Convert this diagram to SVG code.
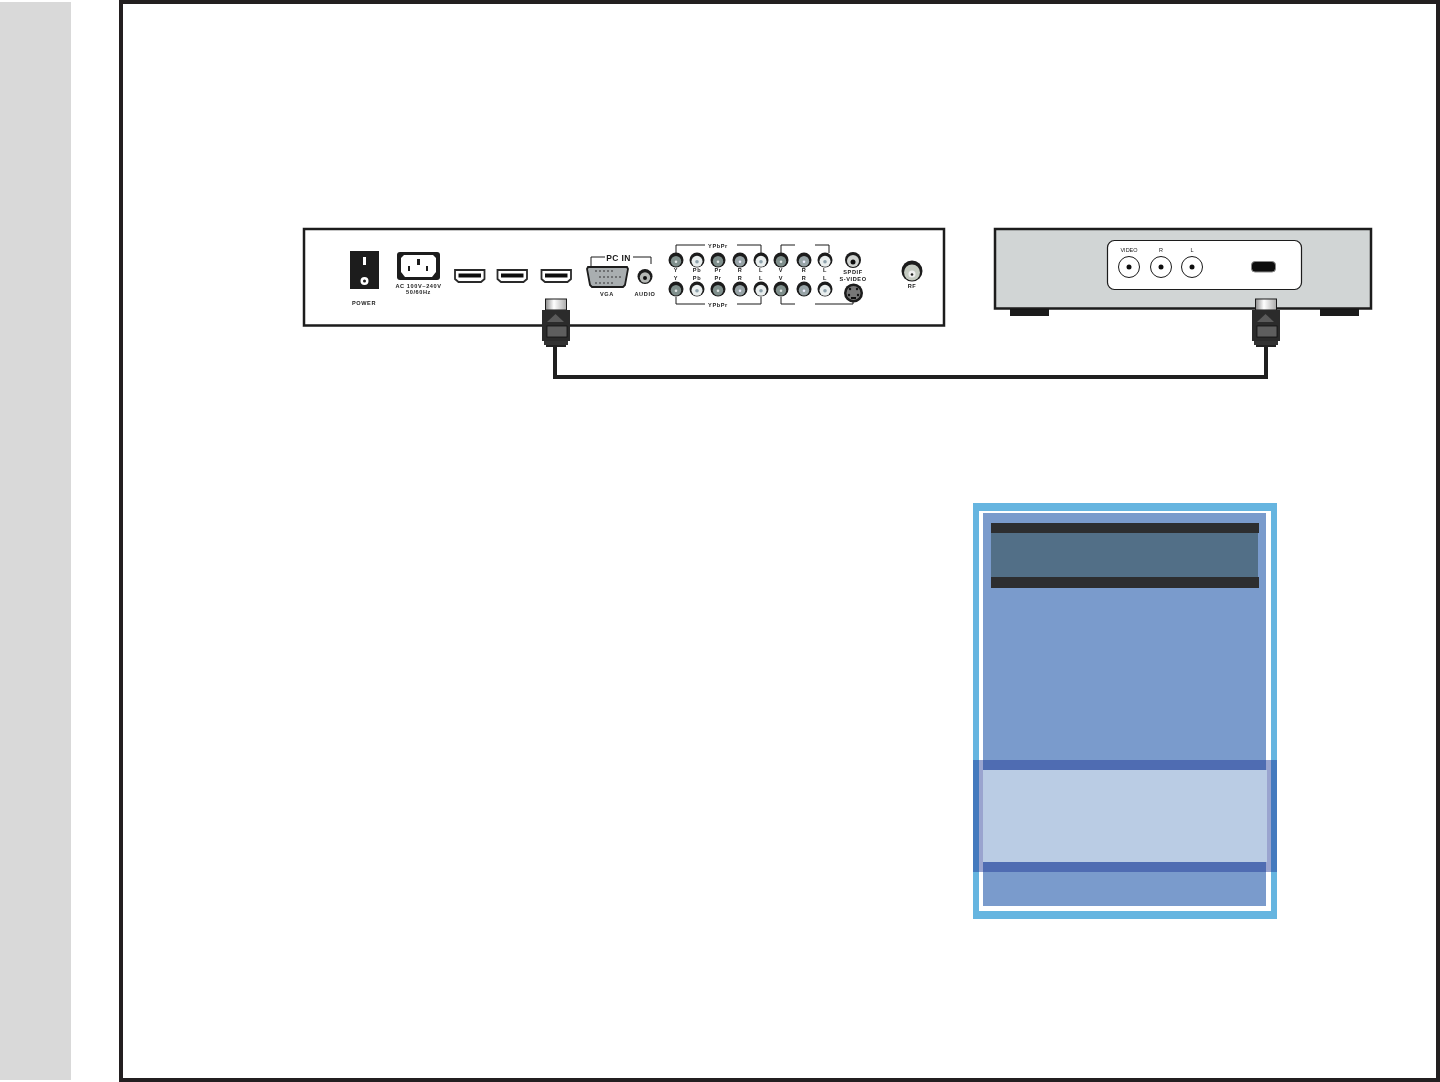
<svg xmlns="http://www.w3.org/2000/svg" width="1440" height="1082" viewBox="0 0 1440 1082">
<style>
text{font-family:"Liberation Sans",Arial,sans-serif;font-weight:bold;fill:#1a1a1a;text-anchor:middle}
.s{font-size:5.600px;letter-spacing:.6px}.l{font-size:8.500px;letter-spacing:.4px}
.w{fill:none;stroke:#1a1a1a;stroke-width:1}
text.stb{font-weight:normal;font-size:5.500px;letter-spacing:0}
.rc{fill:#fff;stroke:#1a1a1a;stroke-width:1.200}
</style>
<defs>
<filter id="soft" x="0" y="0" width="1440" height="1082" filterUnits="userSpaceOnUse"><feGaussianBlur stdDeviation=".28"/></filter>
<linearGradient id="head" x1="0" x2="1" y1="0" y2="0"><stop offset="0" stop-color="#8a8a8a"/><stop offset=".4" stop-color="#fff"/><stop offset="1" stop-color="#aaa"/></linearGradient>
<g id="hdmi"><path d="M0 1.500h29.500v9l-3.500 3h-22.500l-3.500-3z" fill="#fff" stroke="#2a2a2a" stroke-width="1.800"/><rect x="3.500" y="5" width="22.500" height="4" fill="#111"/></g>
<g id="plug">
<rect x="3.500" y="-11" width="21" height="11" fill="url(#head)" stroke="#1a1a1a" stroke-width="1"/>
<rect x="0" y="0" width="28" height="31" fill="#2b2b2b"/>
<path d="M5 12l8.500-8 8.500 8z" fill="#5a5a5a"/>
<rect x="5" y="16" width="20" height="11" fill="#5e5e5e" stroke="#111" stroke-width=".8"/>
<rect x="2" y="31" width="24" height="4" fill="#333"/>
<rect x="4" y="35" width="20" height="2" fill="#222"/>
</g>
<g id="jd"><circle r="7.500" fill="#1a1a1a"/><circle cy="1.300" r="5.200" fill="#7f8f8c"/><circle cy="1.800" r="1.300" fill="#dfe5e4"/></g>
<g id="jg"><circle r="7.500" fill="#1a1a1a"/><circle cy="1.300" r="5.200" fill="#97a3a6"/><circle cy="1.800" r="1.300" fill="#eeeeff"/></g>
<g id="jw"><circle r="7.500" fill="#1a1a1a"/><circle cy="1.300" r="5.500" fill="#e9eeee"/><circle cy="1.800" r="1.800" fill="#8fa3ad"/></g>
<g id="stbjack"><circle r="10.500" fill="#fff" stroke="#1a1a1a" stroke-width="1"/><circle r="2.500" fill="#111"/></g>
</defs>

<rect id="sidebar" x="0" y="2" width="71" height="1078" fill="#d9d9d9"/>
<rect id="frame" x="121" y="2" width="1317" height="1078" fill="#fff" stroke="#231f20" stroke-width="4"/>

<g id="tv-panel" filter="url(#soft)">
<rect x="304" y="229" width="640" height="96.500" fill="#fff" stroke="#1a1a1a" stroke-width="2.500"/>
<g id="power">
<rect x="350" y="251" width="29" height="38" fill="#1a1a1a"/>
<rect x="363" y="257" width="3" height="8" fill="#fff"/>
<circle cx="364.500" cy="281" r="4" fill="#fff"/><circle cx="364.500" cy="281" r="1.500" fill="#1a1a1a"/>
<text class="s" x="364" y="305">POWER</text>
</g>
<g id="ac">
<rect x="397" y="252" width="43" height="28" rx="3" fill="#1a1a1a"/>
<path d="M404 255h29l3 3v14l-4 5h-27l-4-5v-14z" fill="#fff"/>
<rect x="408" y="266" width="2" height="5" fill="#1a1a1a"/><rect x="417" y="259" width="3" height="6" fill="#1a1a1a"/><rect x="426" y="266" width="2" height="5" fill="#1a1a1a"/>
<text class="s" x="418.500" y="288">AC 100V~240V</text>
<text class="s" x="418.500" y="294">50/60Hz</text>
</g>
<use id="hdmi1" href="#hdmi" x="455" y="268.500"/>
<use id="hdmi2" href="#hdmi" x="497.500" y="268.500"/>
<use id="hdmi3" href="#hdmi" x="541.500" y="268.500"/>
<g id="vga">
<path class="w" d="M591 266v-9h14M633 257h18v7"/>
<text class="l" x="618.500" y="261">PC IN</text>
<path d="M588 267h39l1 2-3 16-2 2h-31l-2-2-3-16z" fill="#a9aeb0" stroke="#1a1a1a" stroke-width="1.800"/>
<g fill="#222"><circle cx="596" cy="271" r=".8"/><circle cx="600" cy="271" r=".8"/><circle cx="604" cy="271" r=".8"/><circle cx="608" cy="271" r=".8"/><circle cx="612" cy="271" r=".8"/>
<circle cx="600" cy="277" r=".8"/><circle cx="604" cy="277" r=".8"/><circle cx="608" cy="277" r=".8"/><circle cx="612" cy="277" r=".8"/><circle cx="616" cy="277" r=".8"/><circle cx="620" cy="277" r=".8"/>
<circle cx="596" cy="283" r=".8"/><circle cx="600" cy="283" r=".8"/><circle cx="604" cy="283" r=".8"/><circle cx="608" cy="283" r=".8"/><circle cx="612" cy="283" r=".8"/></g>
<text class="s" x="607" y="296">VGA</text>
</g>
<g id="audio">
<circle cx="645" cy="276.500" r="7.500" fill="#1a1a1a"/><circle cx="645" cy="277.500" r="5.200" fill="#b5b8b5"/><circle cx="645" cy="278" r="2" fill="#111"/>
<text class="s" x="645" y="296">AUDIO</text>
</g>
<g id="av-top">
<path class="w" d="M676 253v-8h29M737 245h24v8M781 253v-8h14M815 245h14v8"/>
<text class="s" x="718" y="247.500">YPbPr</text>
<use href="#jd" x="676" y="260"/><use href="#jw" x="697" y="260"/><use href="#jd" x="718" y="260"/><use href="#jg" x="740" y="260"/><use href="#jw" x="761" y="260"/><use href="#jd" x="781" y="260"/><use href="#jg" x="804" y="260"/><use href="#jw" x="825" y="260"/>
<text class="s" x="676" y="272">Y</text><text class="s" x="697" y="272">Pb</text><text class="s" x="718" y="272">Pr</text><text class="s" x="740" y="272">R</text><text class="s" x="761" y="272">L</text><text class="s" x="781" y="272">V</text><text class="s" x="804" y="272">R</text><text class="s" x="825" y="272">L</text>
</g>
<g id="av-bottom">
<text class="s" x="676" y="280">Y</text><text class="s" x="697" y="280">Pb</text><text class="s" x="718" y="280">Pr</text><text class="s" x="740" y="280">R</text><text class="s" x="761" y="280">L</text><text class="s" x="781" y="280">V</text><text class="s" x="804" y="280">R</text><text class="s" x="825" y="280">L</text>
<use href="#jd" x="676" y="289"/><use href="#jw" x="697" y="289"/><use href="#jd" x="718" y="289"/><use href="#jg" x="740" y="289"/><use href="#jw" x="761" y="289"/><use href="#jd" x="781" y="289"/><use href="#jg" x="804" y="289"/><use href="#jw" x="825" y="289"/>
<path class="w" d="M676 297v7h29M737 304h24v-7M781 297v7h14M815 304h38v-4"/>
<text class="s" x="718" y="306.500">YPbPr</text>
</g>
<g id="spdif">
<circle cx="853" cy="260" r="8" fill="#1a1a1a"/><circle cx="853" cy="261" r="6" fill="#cfd2cf"/><circle cx="853" cy="262" r="2.500" fill="#111"/>
<text class="s" x="853" y="274">SPDIF</text>
<text class="s" x="853" y="280.500">S-VIDEO</text>
</g>
<g id="svideo">
<circle cx="853.500" cy="293" r="9.500" fill="#1a1a1a"/><circle cx="853.500" cy="293" r="7" fill="#777"/>
<g fill="#111"><circle cx="850" cy="289" r="1.200"/><circle cx="857" cy="289" r="1.200"/><circle cx="849" cy="295" r="1.200"/><circle cx="858" cy="295" r="1.200"/><rect x="851" y="297" width="5" height="2"/></g>
</g>
<g id="rf">
<circle cx="912" cy="271" r="10.500" fill="#1a1a1a"/><circle cx="912" cy="272.500" r="8" fill="#c4cac0"/><circle cx="912" cy="274" r="3.500" fill="#f0f0f0"/><circle cx="912" cy="274.500" r="1.300" fill="#222"/>
<text class="s" x="912" y="288">RF</text>
</g>
</g>

<g id="stb" filter="url(#soft)">
<rect x="1010" y="308" width="39" height="8" fill="#1a1a1a"/><rect x="1320" y="308" width="39" height="8" fill="#1a1a1a"/>
<rect x="995" y="229" width="376" height="79.500" fill="#d1d5d5" stroke="#1a1a1a" stroke-width="2.500"/>
<rect class="rc" x="1107.500" y="240.500" width="194" height="49" rx="7"/>
<use href="#stbjack" x="1129" y="267"/><use href="#stbjack" x="1161" y="267"/><use href="#stbjack" x="1192" y="267"/>
<text class="stb" x="1129" y="252">VIDEO</text><text class="stb" x="1161" y="252">R</text><text class="stb" x="1192" y="252">L</text>
<rect x="1251.500" y="261.500" width="24" height="10.500" rx="3.500" fill="#111" stroke="#888" stroke-width="1"/>
</g>

<g id="connectors">
<path d="M555 345V377H1266V345" fill="none" stroke="#1f1f1f" stroke-width="4"/>
</g>
<use id="plug-tv" href="#plug" x="542" y="310"/>
<use id="plug-stb" href="#plug" x="1252" y="310"/>

<g id="blue-box">
<rect x="973" y="503" width="304" height="416" fill="#66b5e0"/>
<rect x="979" y="511" width="292" height="400" fill="#fff"/>
<rect x="983" y="513" width="283" height="393" fill="#7a9bcc"/>
<rect x="991" y="533" width="267" height="44" fill="#526f87"/>
<rect x="991" y="523" width="268" height="10" fill="#2d2e30"/>
<rect x="991" y="577" width="268" height="11" fill="#2d2e30"/>
<rect x="973" y="760" width="304" height="112" fill="#193091" fill-opacity=".44"/>
<rect x="983" y="770" width="284" height="92" fill="#bacce4"/>
</g>
</svg>
